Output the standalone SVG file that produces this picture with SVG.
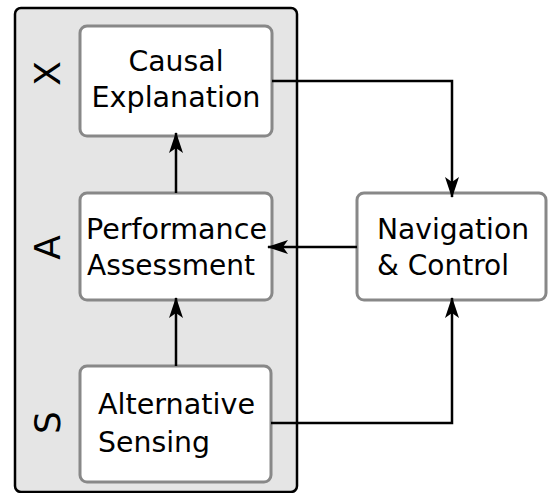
<svg xmlns="http://www.w3.org/2000/svg" width="548" height="493" viewBox="0 0 548 493">
<defs>
<style>
.box{fill:#fff;stroke:#888;stroke-width:3}
.t{font-family:"DejaVu Sans",sans-serif;font-size:27.5px;fill:#000}
.m{text-anchor:middle}
.s{font-family:"DejaVu Sans",sans-serif;font-size:36px;fill:#000;text-anchor:middle}
.c{fill:none;stroke:#000;stroke-width:2.5}
</style>
<marker id="ah" markerWidth="22" markerHeight="16" viewBox="0 0 22 16" refX="20" refY="8" orient="auto" markerUnits="userSpaceOnUse">
<path d="M21,8 L0,1 L5,8 L0,15 Z" fill="#000"/>
</marker>
</defs>
<g id="container">
<rect x="15" y="8" width="282" height="484" rx="6" fill="#e5e5e5" stroke="#000" stroke-width="2.5"/>
<text class="s" transform="translate(60,73.5) rotate(-90)">X</text>
<text class="s" transform="translate(60,247.5) rotate(-90)">A</text>
<text class="s" transform="translate(60,422.5) rotate(-90)">S</text>
</g>
<g id="causal">
<rect class="box" x="80" y="26" width="192" height="110" rx="7"/>
<text class="t m" x="176" y="71" textLength="95" lengthAdjust="spacingAndGlyphs">Causal</text>
<text class="t m" x="176" y="107" textLength="169" lengthAdjust="spacingAndGlyphs">Explanation</text>
</g>
<g id="performance">
<rect class="box" x="80" y="193" width="192" height="107" rx="7"/>
<text class="t" x="86" y="239" textLength="181" lengthAdjust="spacingAndGlyphs">Performance</text>
<text class="t" x="87" y="275" textLength="168" lengthAdjust="spacingAndGlyphs">Assessment</text>
</g>
<g id="alternative">
<rect class="box" x="80" y="366" width="191" height="116" rx="7"/>
<text class="t" x="98" y="414" textLength="157" lengthAdjust="spacingAndGlyphs">Alternative</text>
<text class="t" x="98" y="452" textLength="112" lengthAdjust="spacingAndGlyphs">Sensing</text>
</g>
<g id="navigation">
<rect class="box" x="357" y="193" width="189" height="107" rx="7"/>
<text class="t" x="377" y="239" textLength="152" lengthAdjust="spacingAndGlyphs">Navigation</text>
<text class="t" x="377" y="275" textLength="132" lengthAdjust="spacingAndGlyphs">&amp; Control</text>
</g>
<g id="connectors">
<path class="c" d="M176,193 V133" marker-end="url(#ah)"/>
<path class="c" d="M176,366 V298" marker-end="url(#ah)"/>
<path class="c" d="M272,81 H452 V197" marker-end="url(#ah)"/>
<path class="c" d="M357,247 H268" marker-end="url(#ah)"/>
<path class="c" d="M271,423 H452 V298" marker-end="url(#ah)"/>
</g>
</svg>
